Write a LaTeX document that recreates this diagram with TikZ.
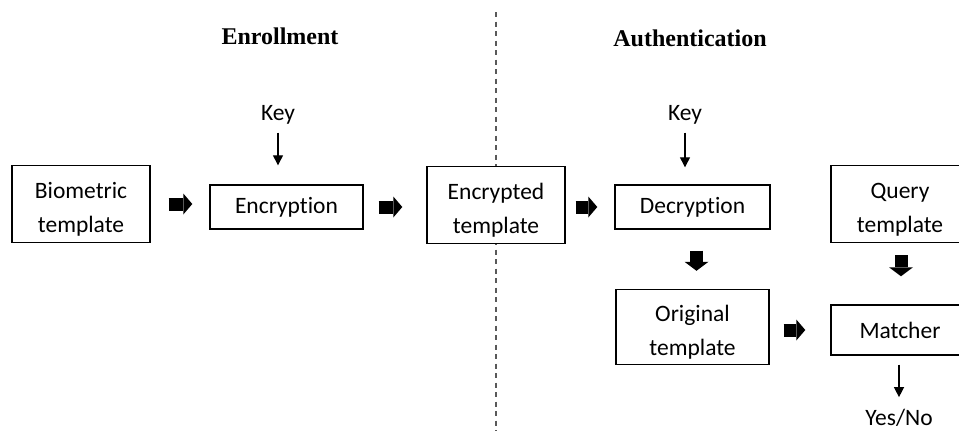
\documentclass[tikz,border=0pt]{standalone}
\usepackage{fontspec}
\setmainfont{Carlito}[Ligatures=NoCommon]
\newfontfamily\titlefont{Liberation Serif}
\usetikzlibrary{arrows.meta}

% two centred lines, set slightly low inside their box
\newcommand\twolines[2]{\raisebox{-4.5pt}[\height][\depth]{%
  \begin{tabular}{@{}c@{}}#1\\#2\end{tabular}}}

\tikzset{
  box/.style={draw=black, line width=1.4pt, fill=white, align=center,
    inner sep=0pt, font=\fontsize{23.5}{34}\selectfont},
  lbl/.style={inner sep=0pt, font=\fontsize{23.5}{28}\selectfont},
  heading/.style={inner sep=0pt, font=\titlefont\bfseries\fontsize{24}{28}\selectfont},
  fatarrow/.style={line width=13pt,
    -{Triangle[length=9pt, width=21pt, line width=0pt]}},
  fatdown/.style={line width=13pt,
    -{Triangle[length=9pt, width=24pt, line width=0pt]}},
  thinarrow/.style={line width=1.3pt,
    -{Triangle[length=10pt, width=10pt]}},
  divider/.style={line width=1.6pt, draw=black!65, dash pattern=on 5pt off 4.5pt}
}

\begin{document}
\begin{tikzpicture}[x=1pt, y=-1pt]
  \useasboundingbox (0,0) rectangle (959,431);
  \clip (0,0) rectangle (959,431);

  % divider between the two phases
  \coordinate (divtop) at (496,12);
  \coordinate (divbot) at (496,431);
  \draw[divider] (divtop) -- (divbot);

  % phase headings
  \node[heading] (henr) at (280,36) {Enrollment};
  \node[heading] (hauth) at (690,38) {Authentication};

  % enrollment
  \node[box, minimum width=138pt, minimum height=77pt] (bio) at (81,204)
    {\twolines{Biometric}{template}};
  \node[box, minimum width=153pt, minimum height=44pt] (enc) at (286.5,207)
    {Encryption};
  \node[lbl] (key1) at (278,115) {Key};

  % stored template (on the divider)
  \node[box, minimum width=138pt, minimum height=77pt] (stored) at (496,205)
    {\twolines{Encrypted}{template}};

  % authentication
  \node[box, minimum width=155pt, minimum height=44pt] (dec) at (692.5,207)
    {Decryption};
  \node[lbl] (key2) at (685,115) {Key};
  \node[box, minimum width=153pt, minimum height=75pt] (orig) at (692.5,327)
    {\twolines{Original}{template}};
  \node[box, minimum width=138pt, minimum height=77pt] (query) at (900,204)
    {\twolines{Query}{template}};
  \node[box, minimum width=138pt, minimum height=50pt] (match) at (900,330)
    {Matcher};
  \node[lbl] (result) at (899,418) {Yes/No};

  % block arrows
  \draw[fatarrow, shorten <=18pt, shorten >=17pt] (bio.east) -- (enc.west |- bio.east);
  \draw[fatarrow, shorten <=15pt, shorten >=24pt] (enc.east) -- (stored.west |- enc.east);
  \draw[fatarrow, shorten <=10pt, shorten >=17pt] (stored.east |- dec.east) -- (dec.west);
  \draw[fatdown, shorten <=21pt, shorten >=18pt] ([xshift=4pt]dec.south) -- ([xshift=4pt]dec.south |- orig.north);
  \draw[fatdown, shorten <=12pt, shorten >=28pt] ([xshift=1pt]query.south) -- ([xshift=1pt]query.south |- match.north);
  \draw[fatarrow, shorten <=14pt, shorten >=25pt] (orig.east |- match.west) -- (match.west);

  % key inputs and decision output
  \draw[thinarrow, shorten <=8pt, shorten >=19pt] (key1.south) -- (key1.south |- enc.north);
  \draw[thinarrow, shorten <=8pt, shorten >=17pt] (key2.south) -- (key2.south |- dec.north);
  \draw[thinarrow, shorten <=9pt, shorten >=12pt] (result.north |- match.south) -- (result.north);
\end{tikzpicture}
\end{document}
